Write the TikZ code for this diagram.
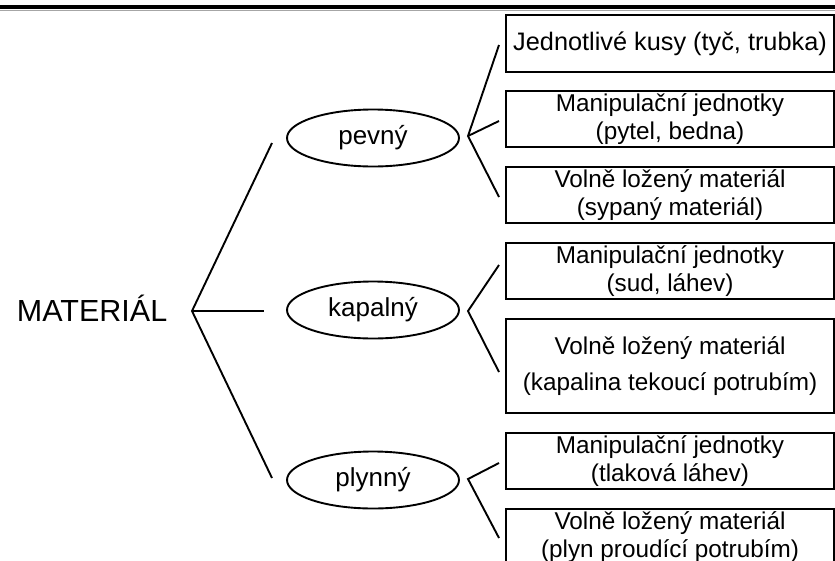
\documentclass[tikz,border=0pt]{standalone}
\usepackage{fontspec}
\setmainfont{Liberation Sans}
\usetikzlibrary{shapes.geometric}

\begin{document}
\begin{tikzpicture}[x=1pt,y=-1pt,line width=1.9pt,
  itembox/.style={draw,rectangle,minimum width=328pt,minimum height=56pt,
    inner sep=0pt,align=center,font=\fontsize{24.3}{28}\selectfont},
  statenode/.style={draw,ellipse,minimum width=172pt,minimum height=57pt,
    inner sep=0pt,font=\fontsize{26}{30}\selectfont},
  branch/.style={line width=1.9pt,line join=miter}]
\useasboundingbox (0,0) rectangle (835,560);

% heading rule
\fill (0,4.5) rectangle (835,8.5);
\draw[black!35,line width=0.9pt] (0,10) -- (835,10);

% root
\node[anchor=base west,inner sep=0pt,font=\fontsize{30.5}{34}\selectfont]
  (root) at (16,321) {MATERIÁL};

% states of matter
\node[statenode] (solid)  at (373,138) {pevný};
\node[statenode] (liquid) at (373,310) {kapalný};
\node[statenode] (gas)    at (373,480) {plynný};

% categories
\node[itembox,minimum height=57pt,font=\fontsize{25.3}{28}\selectfont]
  (s1) at (670,43.5) {Jednotlivé kusy (tyč, trubka)};
\node[itembox] (s2) at (670,119) {Manipulační jednotky\\(pytel, bedna)};
\node[itembox] (s3) at (670,195) {Volně ložený materiál\\(sypaný materiál)};
\node[itembox] (l1) at (670,271) {Manipulační jednotky\\(sud, láhev)};
\node[itembox,minimum height=94pt] (l2) at (670,366)
  {Volně ložený materiál\\[8pt](kapalina tekoucí potrubím)};
\node[itembox] (g1) at (670,461) {Manipulační jednotky\\(tlaková láhev)};
\node[itembox] (g2) at (670,537) {Volně ložený materiál\\(plyn proudící potrubím)};

% bracket from the root
\coordinate (rv) at (192,311);
\coordinate (ra) at (272,143);
\coordinate (rb) at (264,311);
\coordinate (rc) at (272,478);
\draw[branch] (ra) -- (rv) -- (rc);
\draw[branch] (rv) -- (rb);

% bracket of the solid state
\coordinate (sv) at (468,136);
\coordinate (sa) at (499,45);
\coordinate (sb) at (499,121);
\coordinate (sc) at (499,197);
\draw[branch] (sa) -- (sv) -- (sc);
\draw[branch] (sv) -- (sb);

% bracket of the liquid state
\coordinate (lv) at (468,311);
\coordinate (la) at (499,265);
\coordinate (lb) at (499,372);
\draw[branch] (la) -- (lv) -- (lb);

% bracket of the gaseous state
\coordinate (gv) at (468,479);
\coordinate (ga) at (499,463);
\coordinate (gb) at (499,538);
\draw[branch] (ga) -- (gv) -- (gb);
\end{tikzpicture}
\end{document}
